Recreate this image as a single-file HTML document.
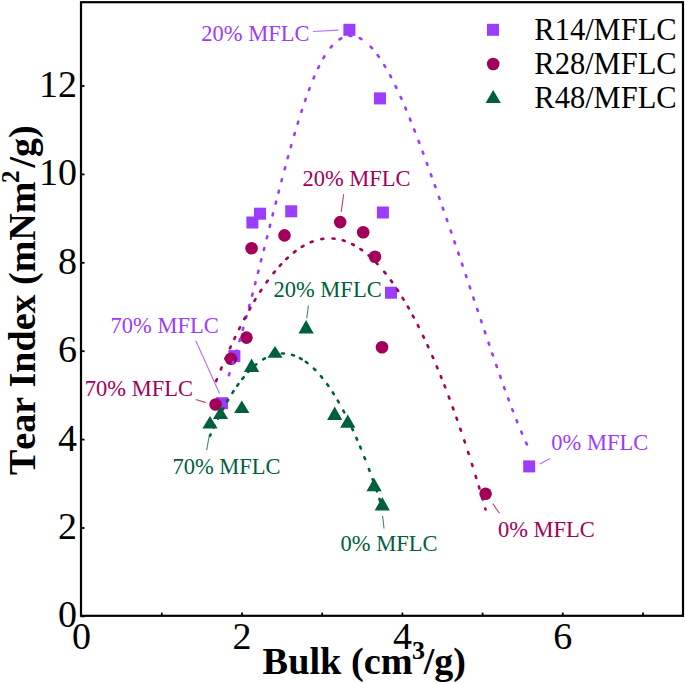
<!DOCTYPE html><html><head><meta charset="utf-8"><style>html,body{margin:0;padding:0;background:#fff;}svg{display:block;}text{font-family:"Liberation Serif",serif;font-kerning:none;}</style></head><body>
<svg width="685" height="684" viewBox="0 0 685 684">
<rect width="685" height="684" fill="#fff"/>
<rect x="343.40" y="23.80" width="12.0" height="12.0" fill="#9b3cff"/><rect x="374.00" y="92.40" width="12.0" height="12.0" fill="#9b3cff"/><rect x="246.40" y="216.50" width="12.0" height="12.0" fill="#9b3cff"/><rect x="254.00" y="207.70" width="12.0" height="12.0" fill="#9b3cff"/><rect x="285.20" y="205.30" width="12.0" height="12.0" fill="#9b3cff"/><rect x="376.90" y="206.50" width="12.0" height="12.0" fill="#9b3cff"/><rect x="385.00" y="286.70" width="12.0" height="12.0" fill="#9b3cff"/><rect x="228.40" y="350.10" width="12.0" height="12.0" fill="#9b3cff"/><rect x="216.00" y="397.20" width="12.0" height="12.0" fill="#9b3cff"/><rect x="523.20" y="460.40" width="12.0" height="12.0" fill="#9b3cff"/><circle cx="251.60" cy="248.30" r="6.3" fill="#a2005a"/><circle cx="284.50" cy="235.40" r="6.3" fill="#a2005a"/><circle cx="340.20" cy="222.10" r="6.3" fill="#a2005a"/><circle cx="363.20" cy="232.30" r="6.3" fill="#a2005a"/><circle cx="375.00" cy="256.80" r="6.3" fill="#a2005a"/><circle cx="382.00" cy="347.30" r="6.3" fill="#a2005a"/><circle cx="246.50" cy="337.60" r="6.3" fill="#a2005a"/><circle cx="231.00" cy="358.80" r="6.3" fill="#a2005a"/><circle cx="215.60" cy="404.50" r="6.3" fill="#a2005a"/><circle cx="485.60" cy="493.80" r="6.3" fill="#a2005a"/><polygon points="306.10,320.00 313.75,333.60 298.45,333.60" fill="#00603e"/><polygon points="275.00,345.90 282.65,357.80 267.35,357.80" fill="#00603e"/><polygon points="251.60,358.50 259.25,371.90 243.95,371.90" fill="#00603e"/><polygon points="241.80,400.50 249.45,413.10 234.15,413.10" fill="#00603e"/><polygon points="220.50,406.60 228.15,419.00 212.85,419.00" fill="#00603e"/><polygon points="210.00,416.00 217.65,428.60 202.35,428.60" fill="#00603e"/><polygon points="334.70,406.50 342.35,420.00 327.05,420.00" fill="#00603e"/><polygon points="347.80,414.40 355.45,427.80 340.15,427.80" fill="#00603e"/><polygon points="374.10,477.90 381.75,491.20 366.45,491.20" fill="#00603e"/><polygon points="382.30,497.00 389.95,510.50 374.65,510.50" fill="#00603e"/>
<path d="M228.86,375.20L229.50,373.30M232.60,363.83L233.20,361.92M236.13,352.46L236.71,350.55M239.52,341.05L240.08,339.13M242.75,329.78L243.29,327.85M246.01,318.03L246.54,316.10M249.05,306.83L249.57,304.90M252.05,295.55L252.56,293.62M255.05,284.10L255.55,282.16M257.97,272.80L258.47,270.86M260.93,261.25L261.42,259.31M263.81,249.93L264.30,248.00M266.77,238.29L267.26,236.36M269.68,226.81L270.18,224.87M272.60,215.36L273.10,213.42M275.63,203.55L276.13,201.62M278.47,192.59L278.98,190.65M281.46,181.19L281.98,179.26M284.64,169.28L285.17,167.35M287.67,158.19L288.20,156.26M290.77,147.10L291.32,145.18M294.29,134.93L294.85,133.01M297.69,123.61L298.28,121.70M301.39,111.87L302.00,109.97M305.08,100.80L305.74,98.91M308.96,89.97L309.67,88.10M313.51,78.42L314.29,76.58M318.13,68.08L319.00,66.29M323.36,58.17L324.38,56.46M330.70,47.48L332.00,45.96M339.54,39.29L341.27,38.28M349.46,35.87L351.45,35.87M359.68,38.20L361.43,39.16M370.64,46.75L372.00,48.21M377.64,55.18L378.81,56.81M384.23,65.08L385.26,66.80M390.11,75.41L391.05,77.18M395.53,86.06L396.40,87.86M400.63,96.99L401.45,98.82M405.28,107.62L406.06,109.46M409.88,118.70L410.63,120.56M414.21,129.58L414.94,131.45M418.58,140.93L419.29,142.80M422.64,151.76L423.34,153.64M426.78,163.02L427.46,164.90M430.88,174.34L431.55,176.22M434.79,185.26L435.46,187.14M438.92,196.92L439.58,198.81M442.71,207.72L443.37,209.61M446.66,219.04L447.31,220.93M450.64,230.56L451.29,232.45M454.36,241.38L455.00,243.27M458.22,252.71L458.87,254.61M461.94,263.67L462.58,265.56M465.81,275.12L466.45,277.02M469.60,286.39L470.24,288.29M473.35,297.57L473.99,299.47M477.18,308.97L477.82,310.87M480.97,320.24L481.61,322.13M484.72,331.35L485.36,333.24M488.58,342.74L489.23,344.63M492.26,353.49L492.91,355.38M496.24,365.02L496.89,366.90M500.06,375.95L500.73,377.84M504.07,387.21L504.75,389.09M508.16,398.39L508.85,400.27M512.24,409.23L512.96,411.10M516.58,420.32L517.33,422.17M521.26,431.67L522.05,433.51M526.09,442.64L526.93,444.45" stroke="#9b3cff" stroke-width="2.6" stroke-linecap="round" fill="none"/><path d="M216.11,381.12L216.85,379.26M220.85,369.42L221.62,367.57M225.33,358.84L226.12,357.00M229.97,348.33L230.80,346.51M234.31,338.95L235.17,337.14M239.12,329.04L240.01,327.25M244.23,319.07L245.16,317.30M249.40,309.56L250.39,307.82M254.44,300.88L255.48,299.18M260.25,291.57L261.35,289.90M266.56,282.32L267.73,280.69M273.54,273.11L274.80,271.56M279.77,265.80L281.12,264.32M286.36,259.00L287.82,257.63M293.97,252.36L295.55,251.14M301.76,246.89L303.48,245.87M310.73,242.26L312.60,241.53M321.31,239.12L323.29,238.81M332.57,238.50L334.56,238.68M342.78,240.36L344.68,240.97M352.09,244.09L353.87,245.02M360.36,249.02L361.99,250.18M368.63,255.47L370.13,256.79M376.22,262.72L377.59,264.17M384.28,271.83L385.54,273.38M390.97,280.49L392.15,282.11M397.09,289.26L398.18,290.93M402.58,297.87L403.63,299.57M407.84,306.72L408.83,308.45M412.79,315.62L413.73,317.38M417.81,325.20L418.71,326.99M423.06,335.83L423.92,337.63M427.50,345.29L428.33,347.10M432.37,356.18L433.18,358.01M436.74,366.39L437.52,368.23M440.74,376.10L441.48,377.95M444.43,385.36L445.15,387.23M448.72,396.56L449.43,398.43M452.75,407.43L453.44,409.31M456.48,417.78L457.14,419.67M460.30,428.73L460.94,430.62M464.25,440.43L464.89,442.33M468.08,452.05L468.69,453.95M471.90,463.98L472.50,465.89M475.62,475.92L476.21,477.84M478.83,486.47L479.41,488.39M482.11,497.48L482.67,499.39M485.32,508.50L485.60,509.46" stroke="#a2005a" stroke-width="2.6" stroke-linecap="round" fill="none"/><path d="M210.00,435.79L210.58,434.49M213.79,427.45L214.64,425.64M218.01,418.67L218.90,416.89M222.46,410.02L223.40,408.26M227.18,401.51L228.19,399.78M232.44,392.85L233.53,391.16M237.25,385.68L238.42,384.06M242.35,378.87L243.61,377.32M248.30,371.96L249.68,370.51M254.84,365.61L256.37,364.32M263.18,359.45L264.91,358.45M272.15,355.25L274.07,354.68M281.89,353.53L283.89,353.53M292.08,354.88L293.99,355.48M299.90,358.10L301.64,359.08M305.82,361.81L307.43,363.01M313.89,368.62L315.31,370.03M320.91,376.20L322.19,377.74M327.16,384.22L328.32,385.85M332.76,392.45L333.83,394.14M337.79,400.69L338.80,402.42M343.32,410.63L344.25,412.40M347.80,419.39L348.68,421.19M352.05,428.27L352.88,430.09M356.36,437.85L357.15,439.68M360.07,446.58L360.84,448.43M364.38,457.23L365.11,459.09M368.90,469.02L369.59,470.90M372.63,479.24L373.30,481.12M376.22,489.50L376.87,491.39M379.38,498.84L380.01,500.74" stroke="#00603e" stroke-width="2.6" stroke-linecap="round" fill="none"/>
<polyline points="313.1,31.5 338.5,30.1" stroke="#9b3cff" stroke-width="1.1" stroke-opacity="0.75" fill="none"/>
<polyline points="343.7,194.2 341.2,211.8" stroke="#a2005a" stroke-width="1.1" stroke-opacity="0.75" fill="none"/>
<polyline points="308.4,305.5 306.8,318.4" stroke="#00603e" stroke-width="1.1" stroke-opacity="0.75" fill="none"/>
<polyline points="195.8,340.8 219.5,393.4" stroke="#9b3cff" stroke-width="1.1" stroke-opacity="0.75" fill="none"/>
<polyline points="195.8,399.5 205.8,402.6" stroke="#a2005a" stroke-width="1.1" stroke-opacity="0.75" fill="none"/>
<polyline points="206.7,450.1 209,437 210.3,435" stroke="#00603e" stroke-width="1.1" stroke-opacity="0.75" fill="none"/>
<polyline points="539.6,464.1 550.1,458.6" stroke="#9b3cff" stroke-width="1.1" stroke-opacity="0.75" fill="none"/>
<polyline points="492.8,503.6 499.4,513.3" stroke="#a2005a" stroke-width="1.1" stroke-opacity="0.75" fill="none"/>
<polyline points="382.5,515.7 383.2,521 384,528.5" stroke="#00603e" stroke-width="1.1" stroke-opacity="0.75" fill="none"/>
<text x="201.3" y="40.7" font-size="22.5" fill="#9b3cff">20% MFLC</text>
<text x="302.4" y="185.7" font-size="22.5" fill="#a2005a">20% MFLC</text>
<text x="273.5" y="296.5" font-size="22.5" fill="#00603e">20% MFLC</text>
<text x="110.6" y="332.9" font-size="22.5" fill="#9b3cff">70% MFLC</text>
<text x="84.8" y="396.0" font-size="22.5" fill="#a2005a">70% MFLC</text>
<text x="172.4" y="473.7" font-size="22.5" fill="#00603e">70% MFLC</text>
<text x="551.3" y="449.6" font-size="22.5" fill="#9b3cff">0% MFLC</text>
<text x="497.9" y="536.9" font-size="22.5" fill="#a2005a">0% MFLC</text>
<text x="340.6" y="551.0" font-size="22.5" fill="#00603e">0% MFLC</text>
<rect x="81" y="2.2" width="602" height="613.6" fill="none" stroke="#000" stroke-width="2.2"/>
<line x1="81" y1="616.4" x2="84.5" y2="616.4" stroke="#000" stroke-width="1.8"/>
<text x="77" y="627.3" font-size="38" text-anchor="end">0</text>
<line x1="81" y1="528.0" x2="84.5" y2="528.0" stroke="#000" stroke-width="1.8"/>
<text x="77" y="538.9" font-size="38" text-anchor="end">2</text>
<line x1="81" y1="439.6" x2="84.5" y2="439.6" stroke="#000" stroke-width="1.8"/>
<text x="77" y="450.5" font-size="38" text-anchor="end">4</text>
<line x1="81" y1="351.2" x2="84.5" y2="351.2" stroke="#000" stroke-width="1.8"/>
<text x="77" y="362.1" font-size="38" text-anchor="end">6</text>
<line x1="81" y1="262.8" x2="84.5" y2="262.8" stroke="#000" stroke-width="1.8"/>
<text x="77" y="273.7" font-size="38" text-anchor="end">8</text>
<line x1="81" y1="174.4" x2="84.5" y2="174.4" stroke="#000" stroke-width="1.8"/>
<text x="77" y="185.3" font-size="38" text-anchor="end">10</text>
<line x1="81" y1="86.0" x2="84.5" y2="86.0" stroke="#000" stroke-width="1.8"/>
<text x="77" y="96.9" font-size="38" text-anchor="end">12</text>
<line x1="161.8" y1="615.8" x2="161.8" y2="612.6" stroke="#000" stroke-width="1.8"/>
<line x1="242.0" y1="615.8" x2="242.0" y2="612.6" stroke="#000" stroke-width="1.8"/>
<line x1="322.2" y1="615.8" x2="322.2" y2="612.6" stroke="#000" stroke-width="1.8"/>
<line x1="402.4" y1="615.8" x2="402.4" y2="612.6" stroke="#000" stroke-width="1.8"/>
<line x1="482.6" y1="615.8" x2="482.6" y2="612.6" stroke="#000" stroke-width="1.8"/>
<line x1="562.8" y1="615.8" x2="562.8" y2="612.6" stroke="#000" stroke-width="1.8"/>
<line x1="643.0" y1="615.8" x2="643.0" y2="612.6" stroke="#000" stroke-width="1.8"/>
<text x="81.6" y="648.5" font-size="38" text-anchor="middle">0</text>
<text x="242.0" y="648.5" font-size="38" text-anchor="middle">2</text>
<text x="402.4" y="648.5" font-size="38" text-anchor="middle">4</text>
<text x="562.8" y="648.5" font-size="38" text-anchor="middle">6</text>
<rect x="487.00" y="23.80" width="12.0" height="12.0" fill="#9b3cff"/>
<circle cx="493.20" cy="64.00" r="6.3" fill="#a2005a"/>
<polygon points="493.20,90.00 500.85,103.00 485.55,103.00" fill="#00603e"/>
<text x="534.3" y="40.0" font-size="30.5">R14/MFLC</text>
<text x="534.3" y="74.2" font-size="30.5">R28/MFLC</text>
<text x="534.3" y="108.4" font-size="30.5">R48/MFLC</text>
<text x="262.6" y="674.4" font-size="38.3" font-weight="bold">Bulk (cm</text>
<text x="412" y="659.3" font-size="26" font-weight="bold">3</text>
<text x="423.8" y="674.4" font-size="38" font-weight="bold">/g)</text>
<g transform="translate(35,475) rotate(-90)"><text x="0" y="0" font-size="38" font-weight="bold">Tear Index (mNm</text><text x="292" y="-16" font-size="25" font-weight="bold">2</text><text x="307.5" y="0" font-size="38" font-weight="bold">/g)</text></g>
</svg></body></html>
